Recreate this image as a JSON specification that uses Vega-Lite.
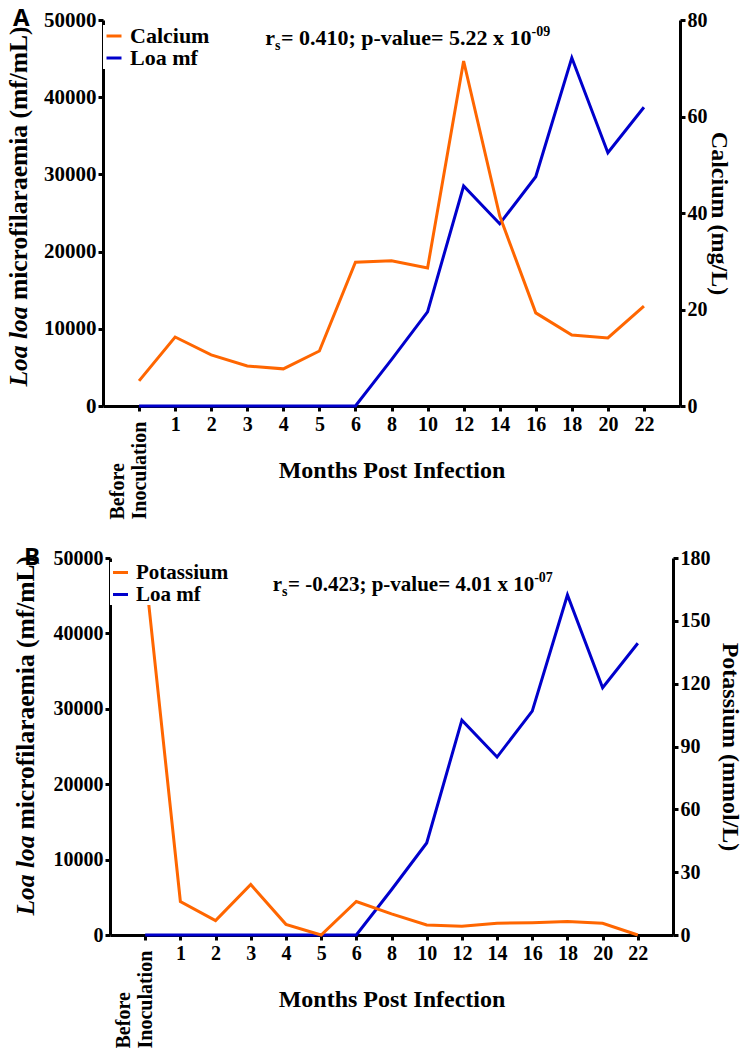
{
  "$schema": "https://vega.github.io/schema/vega-lite/v6.json",
  "background": "white",
  "padding": {"left": 6, "top": 7, "right": 5, "bottom": 0},
  "spacing": 152,
  "bounds": "flush",
  "center": true,
  "resolve": {"scale": {"color": "independent"}},
  "datasets": {
    "series": [
      {"month": "Before Inoculation", "mf": 0, "calcium": 5.2, "potassium": 174},
      {"month": "1", "mf": 0, "calcium": 14.3, "potassium": 16.0},
      {"month": "2", "mf": 0, "calcium": 10.6, "potassium": 6.9},
      {"month": "3", "mf": 0, "calcium": 8.3, "potassium": 24.1},
      {"month": "4", "mf": 0, "calcium": 7.7, "potassium": 5.1},
      {"month": "5", "mf": 0, "calcium": 11.4, "potassium": 0},
      {"month": "6", "mf": 0, "calcium": 29.8, "potassium": 16.0},
      {"month": "8", "mf": 6000, "calcium": 30.1, "potassium": 10.1},
      {"month": "10", "mf": 12200, "calcium": 28.6, "potassium": 4.8},
      {"month": "12", "mf": 28500, "calcium": 71.5, "potassium": 4.2},
      {"month": "14", "mf": 23600, "calcium": 39.4, "potassium": 5.6},
      {"month": "16", "mf": 29700, "calcium": 19.3, "potassium": 5.9},
      {"month": "18", "mf": 45100, "calcium": 14.7, "potassium": 6.4},
      {"month": "20", "mf": 32800, "calcium": 14.1, "potassium": 5.6},
      {"month": "22", "mf": 38700, "calcium": 20.7, "potassium": 0}
    ]
  },
  "config": {
    "view": {"stroke": null},
    "axis": {
      "grid": false,
      "domainColor": "black",
      "domainWidth": 3,
      "tickColor": "black",
      "tickWidth": 3,
      "tickSize": 5,
      "labelFont": "Liberation Serif",
      "labelFontWeight": "bold",
      "labelColor": "black",
      "titleFont": "Liberation Serif",
      "titleFontWeight": "bold",
      "titleColor": "black",
      "labelOverlap": false,
      "labelBound": false
    }
  },
  "vconcat": [
    {
      "width": 577,
      "height": 386,
      "title": {"text": "A", "anchor": "start", "frame": "group", "font": "Open Sans", "fontWeight": "bold", "fontSize": 24, "color": "black", "dx": -90, "dy": 26, "offset": -15, "baseline": "alphabetic"},
      "data": {"name": "series"},
      "layer": [
        {
          "mark": {"type": "line", "strokeWidth": 3},
          "encoding": {
            "x": {
              "field": "month", "type": "ordinal",
              "sort": ["Before Inoculation", "1", "2", "3", "4", "5", "6", "8", "10", "12", "14", "16", "18", "20", "22"],
              "scale": {"type": "point", "padding": 1, "domain": ["Before Inoculation", "1", "2", "3", "4", "5", "6", "8", "10", "12", "14", "16", "18", "20", "22"]},
              "axis": {
                "orient": "bottom",
                "title": "Months Post Infection", "titleFontSize": 24, "titleY": 64, "titleBaseline": "middle",
                "labelFontSize": 20, "labelPadding": 3, "labelAngle": 0,
                "labelExpr": "datum.value === 'Before Inoculation' ? '' : datum.value"
              }
            },
            "y": {
              "field": "mf", "type": "quantitative",
              "scale": {"domain": [0, 50000]},
              "axis": {"orient": "left", "values": [0, 10000, 20000, 30000, 40000, 50000], "format": "d", "labelFontSize": 21, "labelPadding": 2,
                "title": "microfilaraemia (mf/mL)", "titleFontSize": 25.5, "titleAngle": -90, "titleAlign": "left", "titleBaseline": "alphabetic", "titleX": -77, "titleY": 279.6}
            },
            "color": {
              "datum": "Loa mf",
              "scale": {"domain": ["Calcium", "Loa mf"], "range": ["#ff6600", "#0000cc"]},
              "legend": {"orient": "none", "legendX": 0, "legendY": 5, "title": null, "symbolType": "stroke", "symbolStrokeWidth": 3, "symbolSize": 225,
                "labelFont": "Liberation Serif", "labelFontWeight": "bold", "labelFontSize": 22, "labelColor": "black", "rowPadding": 0, "labelOffset": 5, "fillColor": "white", "padding": 0}
            }
          }
        },
        {
          "mark": {"type": "line", "strokeWidth": 3},
          "encoding": {
            "x": {"field": "month", "type": "ordinal", "sort": ["Before Inoculation", "1", "2", "3", "4", "5", "6", "8", "10", "12", "14", "16", "18", "20", "22"],
              "scale": {"type": "point", "padding": 1, "domain": ["Before Inoculation", "1", "2", "3", "4", "5", "6", "8", "10", "12", "14", "16", "18", "20", "22"]}, "axis": null},
            "y": {
              "field": "calcium", "type": "quantitative",
              "scale": {"domain": [0, 80]},
              "axis": {"orient": "right", "values": [0, 20, 40, 60, 80], "labelFontSize": 20, "labelPadding": 2,
                "title": "Calcium (mg/L)", "titleFontSize": 24, "titleAngle": 90, "titlePadding": -1}
            },
            "color": {"datum": "Calcium"}
          }
        },
        {
          "data": {"values": [{"r": "r", "s": "s", "main": "= 0.410; p-value= 5.22 x 10", "sup": "-09"}]},
          "encoding": {
            "x": {"datum": "3", "type": "ordinal", "scale": {"type": "point", "padding": 1, "domain": ["Before Inoculation", "1", "2", "3", "4", "5", "6", "8", "10", "12", "14", "16", "18", "20", "22"]},
              "axis": {"orient": "bottom", "values": ["Before Inoculation"], "labelExpr": "['Before', 'Inoculation']", "labelAngle": -90, "labelAlign": "left", "labelBaseline": "middle",
                "labelLineHeight": 22, "labelOffset": -22, "labelPadding": 113, "labelFontSize": 20, "domain": false, "ticks": false, "title": null}},
            "y": {"datum": 46760, "type": "quantitative", "scale": {"domain": [0, 50000]},
              "axis": {"orient": "left", "labels": false, "ticks": false, "domain": false, "title": "Loa loa", "titleFontStyle": "italic", "titleFontSize": 25.5, "titleAngle": -90, "titleAlign": "left", "titleBaseline": "alphabetic", "titleX": -77, "titleY": 366}}
          },
          "layer": [
            {"mark": {"type": "text", "align": "left", "baseline": "alphabetic", "dx": 18, "font": "Liberation Serif", "fontWeight": "bold", "fontSize": 22, "color": "black"}, "encoding": {"text": {"field": "r"}}},
            {"mark": {"type": "text", "align": "left", "baseline": "alphabetic", "dx": 27.8, "dy": 5, "font": "Liberation Serif", "fontWeight": "bold", "fontSize": 14, "color": "black"}, "encoding": {"text": {"field": "s"}}},
            {"mark": {"type": "text", "align": "left", "baseline": "alphabetic", "dx": 33.7, "font": "Liberation Serif", "fontWeight": "bold", "fontSize": 22, "color": "black"}, "encoding": {"text": {"field": "main"}}},
            {"mark": {"type": "text", "align": "left", "baseline": "alphabetic", "dx": 284.3, "dy": -9, "font": "Liberation Serif", "fontWeight": "bold", "fontSize": 14, "color": "black"}, "encoding": {"text": {"field": "sup"}}}
          ]
        }
      ],
      "resolve": {"scale": {"y": "independent"}, "axis": {"x": "independent"}}
    },
    {
      "width": 563,
      "height": 377,
      "title": {"text": "B", "anchor": "start", "frame": "group", "font": "Open Sans", "fontWeight": "bold", "fontSize": 24, "color": "black", "dx": -86, "dy": 26, "offset": -15, "baseline": "alphabetic"},
      "data": {"name": "series"},
      "layer": [
        {
          "mark": {"type": "line", "strokeWidth": 3},
          "encoding": {
            "x": {
              "field": "month", "type": "ordinal",
              "sort": ["Before Inoculation", "1", "2", "3", "4", "5", "6", "8", "10", "12", "14", "16", "18", "20", "22"],
              "scale": {"type": "point", "padding": 1, "domain": ["Before Inoculation", "1", "2", "3", "4", "5", "6", "8", "10", "12", "14", "16", "18", "20", "22"]},
              "axis": {
                "orient": "bottom",
                "title": "Months Post Infection", "titleFontSize": 24, "titleY": 64, "titleBaseline": "middle",
                "labelFontSize": 20, "labelPadding": 3, "labelAngle": 0,
                "labelExpr": "datum.value === 'Before Inoculation' ? '' : datum.value"
              }
            },
            "y": {
              "field": "mf", "type": "quantitative",
              "scale": {"domain": [0, 50000]},
              "axis": {"orient": "left", "values": [0, 10000, 20000, 30000, 40000, 50000], "format": "d", "labelFontSize": 20, "labelPadding": 2,
                "title": "microfilaraemia (mf/mL)", "titleFontSize": 25.5, "titleAngle": -90, "titleAlign": "left", "titleBaseline": "alphabetic", "titleX": -77, "titleY": 271}
            },
            "color": {
              "datum": "Loa mf",
              "scale": {"domain": ["Potassium", "Loa mf"], "range": ["#ff6600", "#0000cc"]},
              "legend": {"orient": "none", "legendX": 0, "legendY": 4, "title": null, "symbolType": "stroke", "symbolStrokeWidth": 3, "symbolSize": 225,
                "labelFont": "Liberation Serif", "labelFontWeight": "bold", "labelFontSize": 21, "labelColor": "black", "rowPadding": 0, "labelOffset": 5, "fillColor": "white", "padding": 0}
            }
          }
        },
        {
          "mark": {"type": "line", "strokeWidth": 3},
          "encoding": {
            "x": {"field": "month", "type": "ordinal", "sort": ["Before Inoculation", "1", "2", "3", "4", "5", "6", "8", "10", "12", "14", "16", "18", "20", "22"],
              "scale": {"type": "point", "padding": 1, "domain": ["Before Inoculation", "1", "2", "3", "4", "5", "6", "8", "10", "12", "14", "16", "18", "20", "22"]}, "axis": null},
            "y": {
              "field": "potassium", "type": "quantitative",
              "scale": {"domain": [0, 180]},
              "axis": {"orient": "right", "values": [0, 30, 60, 90, 120, 150, 180], "labelFontSize": 20, "labelPadding": 2,
                "title": "Potassium (mmol/L)", "titleFontSize": 24, "titleAngle": 90, "titlePadding": 7}
            },
            "color": {"datum": "Potassium"}
          }
        },
        {
          "data": {"values": [{"r": "r", "s": "s", "main": "= -0.423; p-value= 4.01 x 10", "sup": "-07"}]},
          "encoding": {
            "x": {"datum": "3", "type": "ordinal", "scale": {"type": "point", "padding": 1, "domain": ["Before Inoculation", "1", "2", "3", "4", "5", "6", "8", "10", "12", "14", "16", "18", "20", "22"]},
              "axis": {"orient": "bottom", "values": ["Before Inoculation"], "labelExpr": "['Before', 'Inoculation']", "labelAngle": -90, "labelAlign": "left", "labelBaseline": "middle",
                "labelLineHeight": 22, "labelOffset": -22, "labelPadding": 113, "labelFontSize": 20, "domain": false, "ticks": false, "title": null}},
            "y": {"datum": 45620, "type": "quantitative", "scale": {"domain": [0, 50000]},
              "axis": {"orient": "left", "labels": false, "ticks": false, "domain": false, "title": "Loa loa", "titleFontStyle": "italic", "titleFontSize": 25.5, "titleAngle": -90, "titleAlign": "left", "titleBaseline": "alphabetic", "titleX": -77, "titleY": 357}}
          },
          "layer": [
            {"mark": {"type": "text", "align": "left", "baseline": "alphabetic", "dx": 22, "font": "Liberation Serif", "fontWeight": "bold", "fontSize": 21, "color": "black"}, "encoding": {"text": {"field": "r"}}},
            {"mark": {"type": "text", "align": "left", "baseline": "alphabetic", "dx": 31.3, "dy": 5, "font": "Liberation Serif", "fontWeight": "bold", "fontSize": 14, "color": "black"}, "encoding": {"text": {"field": "s"}}},
            {"mark": {"type": "text", "align": "left", "baseline": "alphabetic", "dx": 37.2, "font": "Liberation Serif", "fontWeight": "bold", "fontSize": 21, "color": "black"}, "encoding": {"text": {"field": "main"}}},
            {"mark": {"type": "text", "align": "left", "baseline": "alphabetic", "dx": 283.4, "dy": -9, "font": "Liberation Serif", "fontWeight": "bold", "fontSize": 14, "color": "black"}, "encoding": {"text": {"field": "sup"}}}
          ]
        }
      ],
      "resolve": {"scale": {"y": "independent"}, "axis": {"x": "independent"}}
    }
  ]
}
